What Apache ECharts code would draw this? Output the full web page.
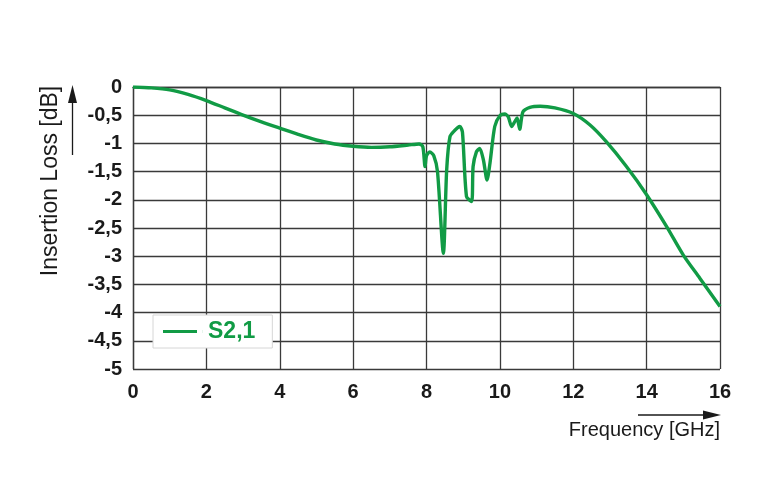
<!DOCTYPE html>
<html>
<head>
<meta charset="utf-8">
<script src="https://cdn.jsdelivr.net/npm/echarts@6/dist/echarts.min.js"></script>
<style>
  html, body { margin: 0; padding: 0; background: #fff; }
  #lossChart { width: 764px; height: 498px; }
</style>
</head>
<body>
<div id="lossChart"></div>
<script>
  // frequency in GHz, insertion loss in dB
  const freq = [0, 0.5, 1, 1.5, 2, 2.5, 3, 3.5, 4, 4.5, 5, 5.5, 6, 6.5, 7, 7.5, 7.8, 7.9, 7.96, 8.0,
    8.09, 8.2, 8.3, 8.46, 8.55, 8.64, 8.77, 8.85, 8.91, 8.98, 9.09, 9.23, 9.27, 9.36, 9.45, 9.55,
    9.65, 9.73, 9.86, 10.0, 10.14, 10.23, 10.32, 10.41, 10.47, 10.54, 10.63, 10.82, 11.1, 11.5,
    12, 12.45, 12.9, 13.45, 14, 14.55, 15, 15.45, 16]
  const loss = [0, -0.015, -0.05, -0.13, -0.24, -0.37, -0.5, -0.62, -0.73, -0.84, -0.94, -1.01, -1.05,
    -1.07, -1.06, -1.03, -1.01, -1.06, -1.41, -1.22, -1.15, -1.22, -1.5, -2.95, -1.47, -0.88, -0.77,
    -0.72, -0.7, -0.8, -1.94, -2.03, -1.41, -1.15, -1.09, -1.29, -1.65, -1.35, -0.7, -0.51, -0.48,
    -0.53, -0.7, -0.61, -0.55, -0.75, -0.44, -0.36, -0.34, -0.37, -0.47, -0.67, -0.97, -1.41, -1.91,
    -2.48, -2.98, -3.39, -3.89]
  const seriesName = 'S2,1'
  const xTitle = 'Frequency [GHz]'
  const yTitle = 'Insertion Loss [dB]'

  const green = '#119b45'
  const gridColor = '#3a3a3a'
  const font = '"Liberation Sans", Arial, Helvetica, sans-serif'

  const points = freq.map((f, i) => [f, loss[i]])
  const fmt = v => String(v).replace('.', ',')

  const option = {
    backgroundColor: '#fff',
    animation: false,
    grid: {
      left: 133,
      right: 44,
      top: 87,
      bottom: 129
    },
    legend: {
      left: 153,
      top: 315,
      orient: 'horizontal',
      backgroundColor: '#fff',
      borderColor: '#d6d6d6',
      borderWidth: 1,
      padding: [5, 17, 5, 10],
      itemWidth: 40,
      itemHeight: 3,
      // line icon with a small blank gap before the text
      icon: 'path://M0,0h34v3h-34zM39.9,0h0.1v3h-0.1z',
      textStyle: {
        color: green,
        fontFamily: font,
        fontWeight: 'bold',
        fontSize: 23
      },
      data: [seriesName]
    },
    xAxis: {
      type: 'value',
      min: 0,
      max: 16,
      interval: 2,
      axisLine: { show: true, lineStyle: { color: gridColor, width: 1.3 } },
      axisTick: { show: false },
      splitLine: { show: true, lineStyle: { color: gridColor, width: 1.3 } },
      axisLabel: {
        margin: 13,
        color: '#1a1a1a',
        fontFamily: font,
        fontWeight: 'bold',
        fontSize: 20,
        formatter: fmt
      }
    },
    yAxis: {
      type: 'value',
      min: -5,
      max: 0,
      interval: 0.5,
      axisLine: { show: true, lineStyle: { color: gridColor, width: 1.3 } },
      axisTick: { show: false },
      splitLine: { show: true, lineStyle: { color: gridColor, width: 1.3 } },
      axisLabel: {
        margin: 11,
        color: '#1a1a1a',
        fontFamily: font,
        fontWeight: 'bold',
        fontSize: 20,
        formatter: fmt
      }
    },
    graphic: [
      {
        type: 'text',
        x: 51,
        y: 181,
        rotation: Math.PI / 2,
        style: {
          text: yTitle,
          fill: '#1a1a1a',
          font: '23px ' + font,
          textAlign: 'center',
          textVerticalAlign: 'middle'
        }
      },
      {
        type: 'line',
        shape: { x1: 72.5, y1: 155, x2: 72.5, y2: 100 },
        style: { stroke: '#1a1a1a', lineWidth: 1.3 }
      },
      {
        type: 'polygon',
        shape: { points: [[72.5, 85], [68, 103], [77, 103]] },
        style: { fill: '#1a1a1a' }
      },
      {
        type: 'text',
        x: 720,
        y: 430,
        style: {
          text: xTitle,
          fill: '#1a1a1a',
          font: '20px ' + font,
          textAlign: 'right',
          textVerticalAlign: 'middle'
        }
      },
      {
        type: 'line',
        shape: { x1: 638, y1: 415, x2: 705, y2: 415 },
        style: { stroke: '#1a1a1a', lineWidth: 1.3 }
      },
      {
        type: 'polygon',
        shape: { points: [[721, 415], [703, 410.5], [703, 419.5]] },
        style: { fill: '#1a1a1a' }
      }
    ],
    series: [{
      name: seriesName,
      type: 'line',
      data: points,
      smooth: 0.25,
      showSymbol: false,
      lineStyle: { color: green, width: 3.4 },
      itemStyle: { color: green },
      z: 3
    }]
  }

  const chart = echarts.init(document.getElementById('lossChart'), null, { renderer: 'canvas' })
  chart.setOption(option)
  window.addEventListener('resize', () => chart.resize())
</script>
</body>
</html>
